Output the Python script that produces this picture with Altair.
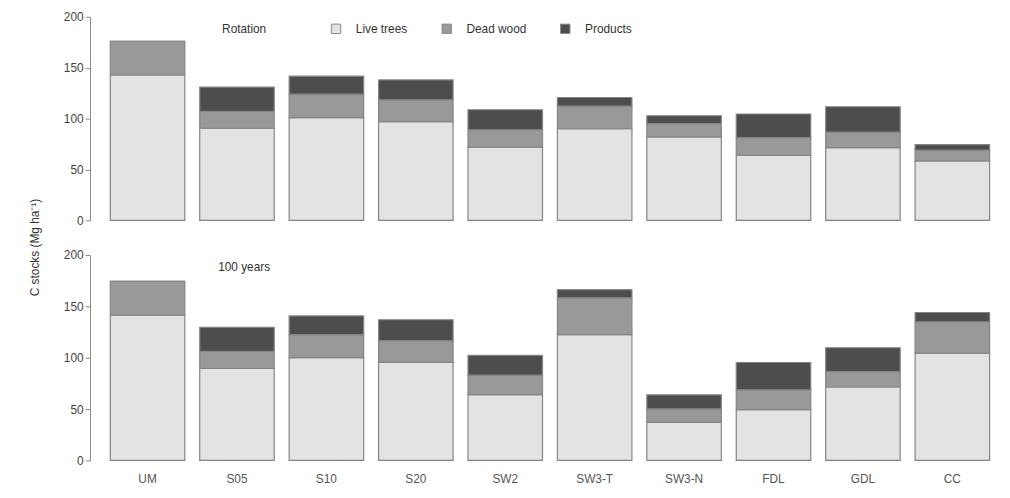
import altair as alt
import pandas as pd

categories = ["UM", "S05", "S10", "S20", "SW2", "SW3-T", "SW3-N", "FDL", "GDL", "CC"]
components = ["Live trees", "Dead wood", "Products"]

rot_live = [143, 90.5, 101, 97, 72, 90, 82, 64, 71.5, 58.5]
rot_dead = [33, 16.5, 23, 21.5, 17, 22.3, 13, 17.3, 15.2, 10.5]
rot_prod = [0, 24, 17.7, 19.5, 19.7, 8.4, 7.8, 23.2, 24.9, 5.4]

yr_live = [141.5, 89.5, 100, 95.5, 64, 122.5, 37, 49.5, 71.5, 104.5]
yr_dead = [32.8, 16.7, 22.5, 21.2, 19, 35.8, 13.2, 19.2, 14.9, 30.5]
yr_prod = [0, 23.4, 18.2, 20.2, 19.3, 8, 13.7, 26.6, 23.3, 9]

colors = ["#e3e3e3", "#999999", "#4d4d4d"]
FONT = "Liberation Sans"


def make_df(live, dead, prod):
    rows = []
    for i, c in enumerate(categories):
        for j, (comp, vals) in enumerate(zip(components, [live, dead, prod])):
            rows.append({"cat": c, "comp": comp, "order": j, "value": vals[i]})
    return pd.DataFrame(rows)


def panel(df, label, show_x, show_legend, h):
    color = alt.Color(
        "comp:N",
        scale=alt.Scale(domain=components, range=colors),
        legend=alt.Legend(
            orient="none", direction="horizontal", legendX=230, legendY=6,
            title=None, symbolType="square", symbolSize=90,
            symbolStrokeColor="#888", symbolStrokeWidth=1,
            labelFont=FONT, labelFontSize=12, labelColor="#333",
            columnPadding=32, labelOffset=14,
        ) if show_legend else None,
    )
    xaxis = alt.Axis(
        title=None, labelAngle=0, domain=False, ticks=False, labelPadding=13,
        labelFont=FONT, labelFontSize=12, labelColor="#555",
    ) if show_x else None
    bars = alt.Chart(df).mark_bar(stroke="#858585", strokeWidth=1.2).encode(
        x=alt.X("cat:N", sort=categories,
                scale=alt.Scale(paddingInner=0.1667, paddingOuter=0.0833),
                axis=xaxis),
        y=alt.Y("value:Q", stack="zero",
                scale=alt.Scale(domain=[0, 200], nice=False),
                axis=alt.Axis(title=None, values=[0, 50, 100, 150, 200],
                              grid=False, offset=13, tickSize=5,
                              domainColor="#888", tickColor="#888",
                              labelFont=FONT, labelFontSize=12, labelColor="#444")),
        color=color,
        order=alt.Order("order:Q"),
    )
    txt = alt.Chart(pd.DataFrame({"t": [label]})).mark_text(
        font=FONT, fontSize=12, color="#333", align="center"
    ).encode(text="t:N", x=alt.value(143), y=alt.value(12))
    return alt.layer(bars, txt).properties(width=905, height=h)


top = panel(make_df(rot_live, rot_dead, rot_prod), "Rotation", False, True, 206)
bottom = panel(make_df(yr_live, yr_dead, yr_prod), "100 years", True, False, 208)

chart = alt.vconcat(top, bottom, spacing=23).properties(
    title=alt.TitleParams("C stocks (Mg ha\u207b\u00b9)", orient="left", anchor="middle",
                          font=FONT, fontSize=12, fontWeight="normal", color="#333", offset=22),
    padding={"left": 20, "top": 0, "right": 5, "bottom": 5},
).configure_view(stroke=None)

chart.save("out.html", embed_options={"renderer": "svg", "actions": False})
